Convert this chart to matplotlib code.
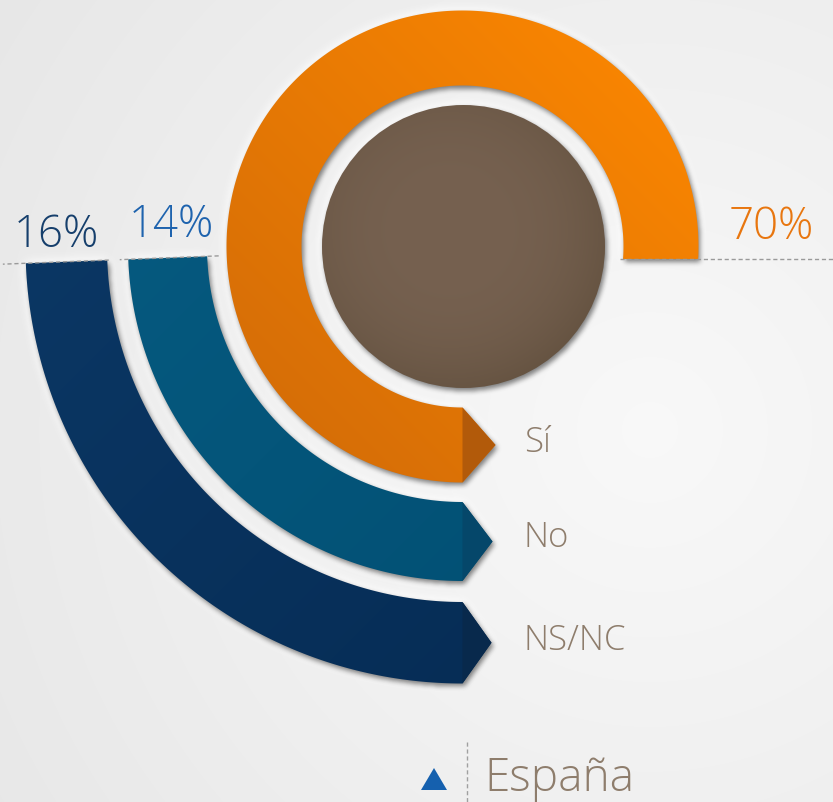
import numpy as np
import matplotlib
matplotlib.use("Agg")
import matplotlib.pyplot as plt
from matplotlib.patches import Polygon, Circle
from matplotlib.path import Path
import matplotlib.colors as mcolors

# ---------------- data ----------------
categories = ["Sí", "No", "NS/NC"]
values = [70, 14, 16]
pct_labels = [f"{v}%" for v in values]
region = "España"

# ---------------- style ----------------
ring_light = ["#FF8900", "#065A80", "#0B3764"]
ring_dark = ["#D06A08", "#025074", "#062D56"]
tip_col = ["#B25A0A", "#05476A", "#08294C"]
pct_col = ["#E8760F", "#1E63AE", "#163F6C"]
label_col = "#8E7D6C"
FONT = ["Open Sans", "DejaVu Sans"]

W, H = 833, 802
fig = plt.figure(figsize=(W / 100, H / 100), dpi=100)
ax = fig.add_axes([0, 0, 1, 1])
ax.set_xlim(0, W)
ax.set_ylim(H, 0)
ax.axis("off")

yy, xx = np.mgrid[0:H, 0:W] + 0.5

# background radial gradient
d = np.hypot(xx - 650, yy - 430) / 800.0
bg = np.clip(0.975 - 0.07 * d, 0, 1)
ax.imshow(np.dstack([bg, bg, bg]), extent=(0, W, H, 0), zorder=0, interpolation="bilinear")

cx, cy = 462.5, 246.5
# (r_in, r_out, start angle, end angle, tip length)
geo = [
    (161.0, 236.0, None, 270.0, 33),   # orange, horizontal cut end
    (255.5, 334.5, 182.2, 270.0, 30),
    (355.5, 437.0, 182.2, 270.0, 29),
]


def ring_verts(r_in, r_out, a0, a1, tip, n=300):
    if a0 is None:  # horizontal cut at y = 259
        cut = 12.5
        ao0 = -np.degrees(np.arcsin(cut / r_out))
        ai0 = -np.degrees(np.arcsin(cut / r_in))
    else:
        ao0 = ai0 = a0
    ao = np.radians(np.linspace(ao0, a1, n))
    ai = np.radians(np.linspace(a1, ai0, n))
    outer = np.column_stack([cx + r_out * np.cos(ao), cy - r_out * np.sin(ao)])
    inner = np.column_stack([cx + r_in * np.cos(ai), cy - r_in * np.sin(ai)])
    apex = np.array([[cx + tip, cy + (r_in + r_out) / 2]])
    return np.vstack([outer, apex, inner])


def box_blur(a, r, axis):
    pad = [(0, 0), (0, 0)]
    pad[axis] = (r + 1, r)
    p = np.pad(a, pad, mode="edge")
    c = np.cumsum(p, axis=axis)
    if axis == 0:
        return (c[2 * r + 1:] - c[:-2 * r - 1]) / (2 * r + 1)
    return (c[:, 2 * r + 1:] - c[:, :-2 * r - 1]) / (2 * r + 1)


def blur(a, r=5, it=3):
    for _ in range(it):
        a = box_blur(a, r, 0)
        a = box_blur(a, r, 1)
    return a


pts = np.column_stack([xx.ravel(), yy.ravel()])
ring_polys = [ring_verts(*g) for g in geo]


def shape_mask(dx, dy):
    m = np.zeros((H, W))
    for v in ring_polys:
        m = np.maximum(m, Path(v + np.array([dx, dy])).contains_points(pts).reshape(H, W))
    c = (np.hypot(xx - (cx + 1 + dx), yy - (cy + dy)) < 141.5).astype(float)
    return np.maximum(m, c)


# white halo
halo = np.ones((H, W, 4))
halo[..., 3] = np.clip(blur(shape_mask(0, 0), 5, 3) * 1.6, 0, 1) * 0.85
ax.imshow(halo, extent=(0, W, H, 0), zorder=1, interpolation="bilinear")

# dark drop shadow
shadow = np.zeros((H, W, 4))
shadow[..., 3] = blur(shape_mask(2.0, 3.0), 2, 3) * 0.5
ax.imshow(shadow, extent=(0, W, H, 0), zorder=1.5, interpolation="bilinear")

# rings with gradients
for i, v in enumerate(ring_polys):
    c0 = np.array(mcolors.to_rgb(ring_dark[i]))
    c1 = np.array(mcolors.to_rgb(ring_light[i]))
    if i == 0:
        t = ((xx - 225) + (482 - yy)) / 950.0
    else:
        t = 1 - ((xx - 20) + (yy - 250)) / 900.0
    t = np.clip(t, 0, 1)[..., None]
    img = c0 * (1 - t) + c1 * t
    patch = Polygon(v, closed=True, fc="none", ec="none", zorder=2)
    ax.add_patch(patch)
    im = ax.imshow(img, extent=(0, W, H, 0), zorder=2, interpolation="bilinear")
    im.set_clip_path(patch)
    r_in, r_out, _, _, tip = geo[i]
    facet = Polygon([[cx, cy + r_in], [cx + tip, cy + (r_in + r_out) / 2], [cx, cy + r_out]],
                    closed=True, fc=tip_col[i], ec="none", zorder=3)
    ax.add_patch(facet)

# centre circle
circ = Circle((cx + 1, cy), 141.5, fc="none", ec="none", zorder=2)
ax.add_patch(circ)
dc = np.clip(np.hypot(xx - 450, yy - 230) / 170.0, 0, 1)[..., None]
cA = np.array(mcolors.to_rgb("#766150"))
cB = np.array(mcolors.to_rgb("#645240"))
cimg = cA * (1 - dc ** 3) + cB * dc ** 3
im = ax.imshow(cimg, extent=(0, W, H, 0), zorder=2, interpolation="bilinear")
im.set_clip_path(circ)

# dashed guide lines
dash = dict(color="#9A9A9A", lw=1.0, ls=(0, (3, 2)), zorder=4)
a = np.radians(182.2)
for rho0, rho1 in [(354, 460), (244, 343)]:
    ax.plot([cx + rho0 * np.cos(a), cx + rho1 * np.cos(a)],
            [cy - rho0 * np.sin(a), cy - rho1 * np.sin(a)], **dash)
ax.plot([620, W], [259, 259], **dash)

# percentage labels
pct_pos = [(771, 239), (171, 237), (56, 247)]
for i, (x, y) in enumerate(pct_pos):
    ax.text(x, y, pct_labels[i], color=pct_col[i], fontsize=31.5, family=FONT,
            fontweight="light", ha="center", va="baseline", zorder=5)

# category labels
lab_y = [452, 547, 650]
for i, y in enumerate(lab_y):
    ax.text(524, y, categories[i], color=label_col, fontsize=25, family=FONT,
            fontweight="light", ha="left", va="baseline", zorder=5)

# legend / region
ax.add_patch(Polygon([[421, 790], [447, 790], [434, 768]], closed=True,
                     fc="#1560AE", ec="none", zorder=5))
ax.plot([467, 467], [742, 802], color="#A0A0A0", lw=1.0, ls=(0, (3, 2)), zorder=4)
ax.text(484, 791, region, color=label_col, fontsize=33, family=FONT,
        fontweight="light", ha="left", va="baseline", zorder=5)

fig.savefig("out.png", dpi=100)
